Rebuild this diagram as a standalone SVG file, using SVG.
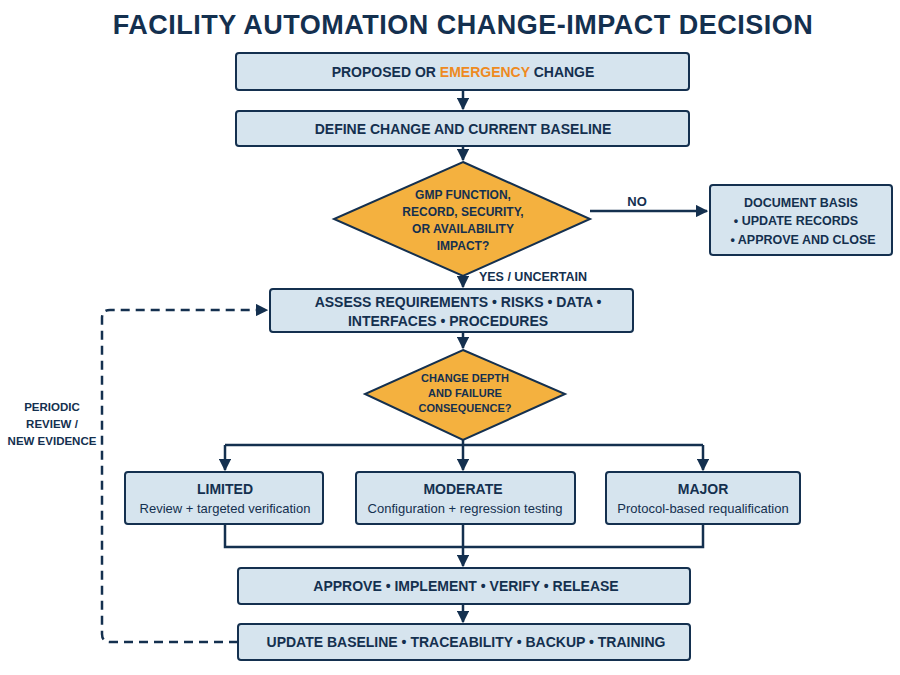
<svg xmlns="http://www.w3.org/2000/svg" width="900" height="675" viewBox="0 0 900 675">
<defs>
<marker id="ah" viewBox="0 0 10 10" refX="9" refY="5" markerWidth="5" markerHeight="5" orient="auto-start-reverse"><path d="M0,0 L10,5 L0,10 z" fill="#14304f"/></marker>
<style>
text{font-family:"Liberation Sans",Arial,sans-serif;fill:#14304f;font-weight:bold;text-anchor:middle}
.box{fill:#d6e4ee;stroke:#14304f;stroke-width:2}
.dia{fill:#f4b13f;stroke:#14304f;stroke-width:2}
.t{font-size:14px}
.s{font-size:13px;font-weight:normal}
.c{fill:none;stroke:#14304f;stroke-width:2.5}
</style>
</defs>
<rect width="900" height="675" fill="#fff"/>
<text x="463" y="34" font-size="27" letter-spacing="0.5">FACILITY AUTOMATION CHANGE-IMPACT DECISION</text>
<g id="connectors">
<path class="c" d="M463,90 V109" marker-end="url(#ah)"/>
<path class="c" d="M463,146 V160" marker-end="url(#ah)"/>
<path class="c" d="M590,211 H707" marker-end="url(#ah)"/>
<path class="c" d="M463,276 V287" marker-end="url(#ah)"/>
<path class="c" d="M463,332 V348" marker-end="url(#ah)"/>
<path class="c" d="M463,440 V470"  marker-end="url(#ah)"/>
<path class="c" d="M225,445 H703"/>
<path class="c" d="M225,445 V470" marker-end="url(#ah)"/>
<path class="c" d="M703,445 V470" marker-end="url(#ah)"/>
<path class="c" d="M225,524 V547 H703 V524 M463,524 V566" marker-end="url(#ah)"/>
<path class="c" d="M463,604 V622" marker-end="url(#ah)"/>
<path class="c" d="M238,642 H110 Q102,642 102,634 V318 Q102,310 110,310 H267" stroke-dasharray="9,6" marker-end="url(#ah)"/>
<text x="637" y="206" font-size="13">NO</text>
<text x="533" y="281" font-size="12.5">YES / UNCERTAIN</text>
<text x="52" y="411" font-size="11.5">PERIODIC</text>
<text x="52" y="428" font-size="11.5">REVIEW /</text>
<text x="52" y="445" font-size="11.5">NEW EVIDENCE</text>
</g>
<g id="n1"><rect class="box" x="236" y="53" width="453" height="37" rx="3"/><text class="t" x="463" y="77">PROPOSED OR <tspan fill="#ee8a1f">EMERGENCY</tspan> CHANGE</text></g>
<g id="n2"><rect class="box" x="236" y="111" width="453" height="35" rx="3"/><text class="t" x="463" y="134">DEFINE CHANGE AND CURRENT BASELINE</text></g>
<g id="n3"><polygon class="dia" points="463,162 590,219 463,276 334,219"/>
<text font-size="12" x="463" y="199">GMP FUNCTION,</text><text font-size="12" x="463" y="216">RECORD, SECURITY,</text><text font-size="12" x="463" y="233">OR AVAILABILITY</text><text font-size="12" x="463" y="250">IMPACT?</text></g>
<g id="n4"><rect class="box" x="710" y="185" width="182" height="70" rx="3"/>
<text font-size="12.5" x="801" y="207">DOCUMENT BASIS</text><text font-size="12.5" x="796" y="225">•  UPDATE RECORDS</text><text font-size="12.5" x="803" y="244">•  APPROVE AND CLOSE</text></g>
<g id="n5"><rect class="box" x="270" y="289" width="363" height="43" rx="3"/>
<text class="t" x="458" y="307">ASSESS REQUIREMENTS • RISKS • DATA •</text><text class="t" x="448" y="326">INTERFACES • PROCEDURES</text></g>
<g id="n6"><polygon class="dia" points="463,350 565,394 463,440 365,394"/>
<text font-size="11" x="465" y="382">CHANGE DEPTH</text><text font-size="11" x="465" y="397">AND FAILURE</text><text font-size="11" x="465" y="412">CONSEQUENCE?</text></g>
<g id="n7"><rect class="box" x="125" y="472" width="198" height="52" rx="3"/><text class="t" x="225" y="494">LIMITED</text><text class="s" x="225" y="513">Review + targeted verification</text></g>
<g id="n8"><rect class="box" x="356" y="472" width="219" height="52" rx="3"/><text class="t" x="463" y="494">MODERATE</text><text class="s" x="465" y="513">Configuration + regression testing</text></g>
<g id="n9"><rect class="box" x="606" y="472" width="194" height="52" rx="3"/><text class="t" x="703" y="494">MAJOR</text><text class="s" x="703" y="513">Protocol-based requalification</text></g>
<g id="n10"><rect class="box" x="238" y="568" width="452" height="36" rx="3"/><text class="t" x="466" y="591">APPROVE • IMPLEMENT • VERIFY • RELEASE</text></g>
<g id="n11"><rect class="box" x="238" y="624" width="452" height="36" rx="3"/><text class="t" x="466" y="647">UPDATE BASELINE • TRACEABILITY • BACKUP • TRAINING</text></g>
</svg>
